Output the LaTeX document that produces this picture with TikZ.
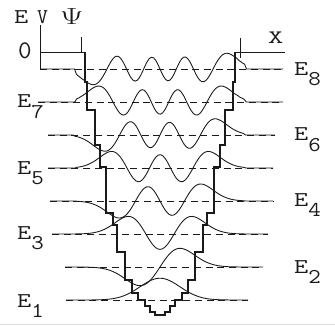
\documentclass[tikz,border=0pt]{standalone}
\usepackage{tikz}
\usetikzlibrary{positioning}
\definecolor{inkDark}{HTML}{1A1A1A}
\definecolor{frameGray}{HTML}{DCDCDC}
\tikzset{
  axisLine/.style={inkDark, line width=0.7pt},
  wellLine/.style={inkDark, line width=2pt, line join=miter},
  levelLine/.style={inkDark, line width=0.7pt, dash pattern=on 6pt off 4pt},
  psiLine/.style={inkDark, line width=0.75pt, smooth},
  lbl/.style={inner sep=0pt, anchor=base west, text=inkDark,
              font=\fontsize{18}{20}\selectfont\ttfamily},
  % normalised oscillator states, by recursion
  declare function={
    psiA(\q)=0.75113*exp(-\q*\q/2);
    psiB(\q)=1.41421*\q*psiA(\q);
    psiC(\q)=\q*psiB(\q)-0.70711*psiA(\q);
    psiD(\q)=0.81650*\q*psiC(\q)-0.81650*psiB(\q);
    psiE(\q)=0.70711*\q*psiD(\q)-0.86603*psiC(\q);
    psiF(\q)=0.63246*\q*psiE(\q)-0.89443*psiD(\q);
    psiG(\q)=0.57735*\q*psiF(\q)-0.91287*psiE(\q);
    psiH(\q)=0.53452*\q*psiG(\q)-0.92582*psiF(\q);
  },
}
\newcommand{\wide}[1]{\scalebox{1.3}[1]{#1}}
\newcommand{\lev}[1]{\wide{E}\raisebox{-0.5em}{\scalebox{1.15}[1]{#1}}}

\begin{document}
\begin{tikzpicture}[x=0.03cm, y=-0.03cm]
    \useasboundingbox (0,0) rectangle (335,329);

    % axes
    \draw[axisLine] (40,25) -- (40,70);
    \draw[axisLine] (40,52) -- (85,52);
    \draw[axisLine] (81,37) -- (81,52);
    \draw[axisLine] (235,52) -- (285,52);
    \draw[axisLine] (240,38) -- (240,58);

    \node[lbl] (eAxis) at (14,23) {\wide{E}};
    \node[lbl] (vAxis) at (37,23) {V};
    \node[lbl] (psiAxis) at (60,24) {\scalebox{1.6}[1.15]{$\Psi$}};
    \node[lbl] (zero) at (18,58) {\scalebox{1.25}[1.2]{0}};
    \node[lbl] (xAxis) at (268,43) {\scalebox{1.4}[0.9]{X}};

    % energy levels
    \draw[levelLine] (66,300) -- (248,300);
    \draw[levelLine] (65,267) -- (263,267);
    \draw[levelLine] (52,234) -- (268,234);
    \draw[levelLine] (50,201) -- (273,201);
    \draw[levelLine] (48,168) -- (273,168);
    \draw[levelLine] (48,135) -- (275,135);
    \draw[levelLine] (38,102) -- (283,102);
    \draw[levelLine] (40,69) -- (283,69);

    % wave functions
    \draw[psiLine] plot[domain=66:248, samples=71] (\x,{300-29*psiA((\x-160)/20)});
    \draw[psiLine] plot[domain=65:263, samples=81] (\x,{267-29*psiB((\x-160)/20)});
    \draw[psiLine] plot[domain=52:268, samples=81] (\x,{234-29*psiC((\x-160)/20)});
    \draw[psiLine] plot[domain=50:273, samples=91] (\x,{201-29*psiD((\x-160)/20)});
    \draw[psiLine] plot[domain=48:273, samples=101] (\x,{168-29*psiE((\x-160)/20)});
    \draw[psiLine] plot[domain=48:275, samples=101] (\x,{135-29*psiF((\x-160)/20)});
    \draw[psiLine] plot[domain=38:283, samples=121] (\x,{102-29*psiG((\x-160)/20)});
    \draw[psiLine] plot[domain=40:283, samples=121] (\x,{69-29*psiH((\x-160)/20)});

    % stepped well
    \draw[wellLine] (85,52)
      \foreach \d/\y in {73/82, 65/110, 60/145, 54/167, 47/213, 43/225,
                         35/252, 28/280, 22/293, 15/300, 10/306, 5/312}
        { |- ({160-\d},\y) }
      |- (165,315)
      \foreach \d/\y in {10/312, 15/306, 22/300, 28/293, 35/280, 43/252,
                         47/225, 54/213, 60/167, 65/145, 73/110, 75/82}
        { |- ({160+\d},\y) }
      -- (235,52);

    \node[lbl] (e1) at (17,307) {\lev{1}};
    \node[lbl] (e2) at (294,273) {\lev{2}};
    \node[lbl] (e3) at (17,239) {\lev{3}};
    \node[lbl] (e4) at (294,206) {\lev{4}};
    \node[lbl] (e5) at (17,174) {\lev{5}};
    \node[lbl] (e6) at (294,140.5) {\lev{6}};
    \node[lbl] (e7) at (17,107.5) {\lev{7}};
    \node[lbl] (e8) at (294,75) {\lev{8}};

    \draw[frameGray, line width=0.8pt] (0,324) -- (335,324);
\end{tikzpicture}
\end{document}
